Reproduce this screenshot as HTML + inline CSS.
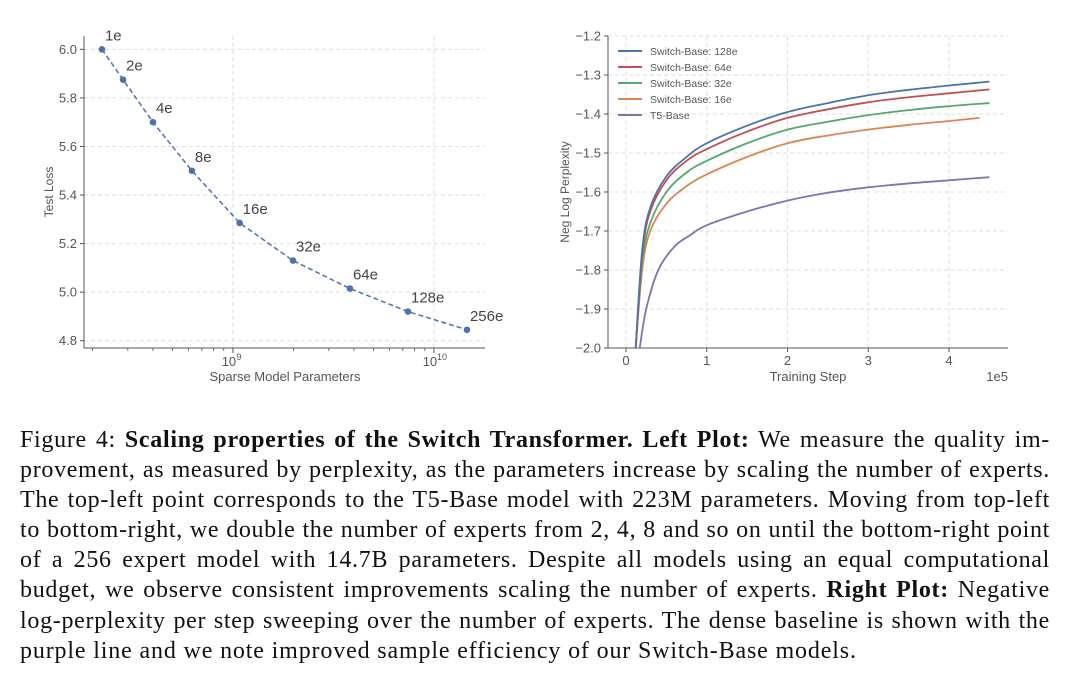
<!DOCTYPE html>
<html><head><meta charset="utf-8"><style>
body{margin:0;background:#fff;width:1080px;height:678px;overflow:hidden;position:relative}
svg{position:absolute;left:0;top:0}
.cap{position:absolute;left:20px;top:425px;width:1030px;font-family:"Liberation Serif",serif;font-size:24px;letter-spacing:0.7px;line-height:30.1px;color:#111}
.cap div{text-align:justify;text-align-last:justify;white-space:nowrap}
.cap div.last{text-align-last:left}
</style></head><body>
<svg id="chart" width="1080" height="420" font-family="Liberation Sans, sans-serif"></svg>
<div class="cap">
<div>Figure 4: <b>Scaling properties of the Switch Transformer. Left Plot:</b> We measure the quality im-</div>
<div>provement, as measured by perplexity, as the parameters increase by scaling the number of experts.</div>
<div>The top-left point corresponds to the T5-Base model with 223M parameters. Moving from top-left</div>
<div style="letter-spacing:0.66px">to bottom-right, we double the number of experts from 2, 4, 8 and so on until the bottom-right point</div>
<div>of a 256 expert model with 14.7B parameters. Despite all models using an equal computational</div>
<div>budget, we observe consistent improvements scaling the number of experts. <b>Right Plot:</b> Negative</div>
<div>log-perplexity per step sweeping over the number of experts. The dense baseline is shown with the</div>
<div class="last" style="letter-spacing:0.85px">purple line and we note improved sample efficiency of our Switch-Base models.</div>
</div>
<script>
// Left chart data
const leftLabels=["1e","2e","4e","8e","16e","32e","64e","128e","256e"];
const leftParams=[2.23e8,2.84e8,4.0e8,6.25e8,1.08e9,1.99e9,3.82e9,7.43e9,1.46e10];
const leftLoss=[6.0,5.875,5.70,5.50,5.285,5.13,5.015,4.92,4.845];
const leftYTicks=[4.8,5.0,5.2,5.4,5.6,5.8,6.0];
// Right chart data
const rightNames=["Switch-Base: 128e","Switch-Base: 64e","Switch-Base: 32e","Switch-Base: 16e","T5-Base"];
const steps128=[0.12,0.2,0.3,0.5,0.75,1,1.5,2,2.5,3,3.5,4,4.5];
const vals128=[-2.0,-1.75,-1.64,-1.56,-1.51,-1.475,-1.43,-1.395,-1.372,-1.352,-1.338,-1.327,-1.317];
const steps64=[0.12,0.2,0.3,0.5,0.75,1,1.5,2,2.5,3,3.5,4,4.5];
const vals64=[-2.0,-1.76,-1.65,-1.57,-1.52,-1.49,-1.445,-1.41,-1.388,-1.37,-1.357,-1.347,-1.337];
const steps32=[0.12,0.2,0.3,0.5,0.75,1,1.5,2,2.5,3,3.5,4,4.5];
const vals32=[-2.0,-1.78,-1.68,-1.60,-1.55,-1.52,-1.475,-1.44,-1.42,-1.403,-1.39,-1.38,-1.372];
const steps16=[0.12,0.2,0.3,0.5,0.75,1,1.5,2,2.5,3,3.5,4,4.38];
const vals16=[-2.0,-1.80,-1.70,-1.63,-1.585,-1.555,-1.51,-1.475,-1.455,-1.44,-1.428,-1.418,-1.41];
const stepsT5=[0.17,0.25,0.4,0.6,0.8,1,1.5,2,2.5,3,3.5,4,4.5];
const valsT5=[-2.0,-1.90,-1.80,-1.74,-1.71,-1.685,-1.65,-1.622,-1.602,-1.588,-1.578,-1.57,-1.562];
const rightXTicks=[0,1,2,3,4];
const rightYTicks=[-2.0,-1.9,-1.8,-1.7,-1.6,-1.5,-1.4,-1.3,-1.2];

const svg=document.getElementById('chart');
const NS='http://www.w3.org/2000/svg';
function mk(tag,attrs,parent){const e=document.createElementNS(NS,tag);for(const k in attrs)e.setAttribute(k,attrs[k]);(parent||svg).appendChild(e);return e;}
function txt(s,attrs,parent){const e=mk('text',attrs,parent);e.textContent=s;return e;}
const gray='#555', grid='#ddd';

// ---- Left chart ----
const L={x0:84,x1:485,y0:36,y1:348};
const lxMin=8.259,lxMax=10.254,lyMin=4.77,lyMax=6.055;
const lx=v=>L.x0+(Math.log10(v)-lxMin)/(lxMax-lxMin)*(L.x1-L.x0);
const ly=v=>L.y1-(v-lyMin)/(lyMax-lyMin)*(L.y1-L.y0);
const gl=mk('g',{});


leftYTicks.forEach(t=>{
  const g=mk('line',{x1:L.x0,x2:L.x1,y1:ly(t),y2:ly(t),stroke:grid,'stroke-dasharray':'4 3'},gl);
  
  mk('line',{x1:L.x0-4,x2:L.x0,y1:ly(t),y2:ly(t),stroke:gray},gl);
  const e=txt(t.toFixed(1),{x:L.x0-7,y:ly(t)+4.5,'text-anchor':'end','font-size':13,fill:gray},gl);
  
});
[9,10].forEach(p=>{
  const x=lx(Math.pow(10,p));
  mk('line',{x1:x,x2:x,y1:L.y0,y2:L.y1,stroke:grid,'stroke-dasharray':'4 3'},gl);
  mk('line',{x1:x,x2:x,y1:L.y1,y2:L.y1+5,stroke:gray},gl);
  const t=txt('10',{x:x-4,y:L.y1+18,'text-anchor':'middle','font-size':13,fill:gray},gl);
  
  txt(String(p),{x:x+(p>9?8:6),y:L.y1+12,'text-anchor':'middle','font-size':9,fill:gray},gl);
});
for(let p=8;p<=10;p++)for(let m=2;m<=9;m++){const v=m*Math.pow(10,p);const x=lx(v);if(x>L.x0&&x<L.x1)mk('line',{x1:x,x2:x,y1:L.y1,y2:L.y1+3,stroke:gray,'stroke-width':0.8},gl);}
mk('line',{x1:L.x0,x2:L.x0,y1:L.y0,y2:L.y1,stroke:gray},gl);
mk('line',{x1:L.x0,x2:L.x1,y1:L.y1,y2:L.y1,stroke:gray},gl);
let d='';leftParams.forEach((p,i)=>{d+=(i?'L':'M')+lx(p)+','+ly(leftLoss[i]);});
const ll=mk('path',{d:d,fill:'none',stroke:'#4c72b0','stroke-width':1.5,'stroke-dasharray':'5 3'},gl);

leftParams.forEach((p,i)=>{
  const c=mk('circle',{cx:lx(p),cy:ly(leftLoss[i]),r:3.3,fill:'#4c72b0'},gl);
  
  const t=txt(leftLabels[i],{x:lx(p)+3,y:ly(leftLoss[i])-9,'font-size':15,fill:'#444'},gl);
  
});
const lyt=txt('Test Loss',{x:0,y:0,transform:`translate(53,${(L.y0+L.y1)/2}) rotate(-90)`,'text-anchor':'middle','font-size':12,fill:gray},gl);

const lxt=txt('Sparse Model Parameters',{x:285,y:381,'text-anchor':'middle','font-size':13,fill:gray},gl);


// ---- Right chart ----
const R={x0:608,x1:1008,y0:36,y1:348};
const rxMin=-0.223,rxMax=4.731,ryMin=-2.0,ryMax=-1.2;
const rx=v=>R.x0+(v-rxMin)/(rxMax-rxMin)*(R.x1-R.x0);
const ry=v=>R.y1-(v-ryMin)/(ryMax-ryMin)*(R.y1-R.y0);
const gr=mk('g',{});


rightYTicks.forEach(t=>{
  mk('line',{x1:R.x0,x2:R.x1,y1:ry(t),y2:ry(t),stroke:grid,'stroke-dasharray':'4 3'},gr);
  mk('line',{x1:R.x0-4,x2:R.x0,y1:ry(t),y2:ry(t),stroke:gray},gr);
  const e=txt('\u2212'+Math.abs(t).toFixed(1),{x:R.x0-7,y:ry(t)+4.5,'text-anchor':'end','font-size':13,fill:gray},gr);
  
});
rightXTicks.forEach(t=>{
  mk('line',{x1:rx(t),x2:rx(t),y1:R.y0,y2:R.y1,stroke:grid,'stroke-dasharray':'4 3'},gr);
  mk('line',{x1:rx(t),x2:rx(t),y1:R.y1,y2:R.y1+4,stroke:gray},gr);
  const e=txt(String(t),{x:rx(t),y:R.y1+17,'text-anchor':'middle','font-size':13,fill:gray},gr);
  
});
mk('line',{x1:R.x0,x2:R.x0,y1:R.y0,y2:R.y1,stroke:gray},gr);
mk('line',{x1:R.x0,x2:R.x1,y1:R.y1,y2:R.y1,stroke:gray},gr);
const cl=mk('clipPath',{id:'rc'},gr);mk('rect',{x:R.x0,y:R.y0,width:R.x1-R.x0,height:R.y1-R.y0},cl);
const series=[[steps128,vals128,'#4c72b0'],[steps64,vals64,'#c44e52'],[steps32,vals32,'#55a868'],[steps16,vals16,'#dd8452'],[stepsT5,valsT5,'#8172b2']];
function smooth(xs,ys){const P=xs.map((x,i)=>[rx(x),ry(ys[i])]);let d='M'+P[0][0]+','+P[0][1];
  for(let i=0;i<P.length-1;i++){const p0=P[Math.max(0,i-1)],p1=P[i],p2=P[i+1],p3=P[Math.min(P.length-1,i+2)];
    d+=`C${p1[0]+(p2[0]-p0[0])/6},${p1[1]+(p2[1]-p0[1])/6} ${p2[0]-(p3[0]-p1[0])/6},${p2[1]-(p3[1]-p1[1])/6} ${p2[0]},${p2[1]}`;}
  return d;}
series.slice().reverse().forEach((s,k)=>{
  const i=series.length-1-k;
  const p=mk('path',{d:smooth(s[0],s[1]),fill:'none',stroke:s[2],'stroke-width':1.8,'clip-path':'url(#rc)'},gr);
  
  
});
rightNames.forEach((n,i)=>{
  const y=51+i*16;
  const g=mk('g',{},gr);
  
  mk('line',{x1:618,x2:642,y1:y,y2:y,stroke:series[i][2],'stroke-width':2},g);
  txt(n,{x:650,y:y+4,'font-size':10.5,fill:gray},g);
});
const ryt=txt('Neg Log Perplexity',{x:0,y:0,transform:`translate(569,${(R.y0+R.y1)/2}) rotate(-90)`,'text-anchor':'middle','font-size':12,fill:gray},gr);

const rxt=txt('Training Step',{x:808,y:381,'text-anchor':'middle','font-size':13,fill:gray},gr);

const off=txt('1e5',{x:1008,y:381,'text-anchor':'end','font-size':13,fill:gray},gr);

</script>
</body></html>
